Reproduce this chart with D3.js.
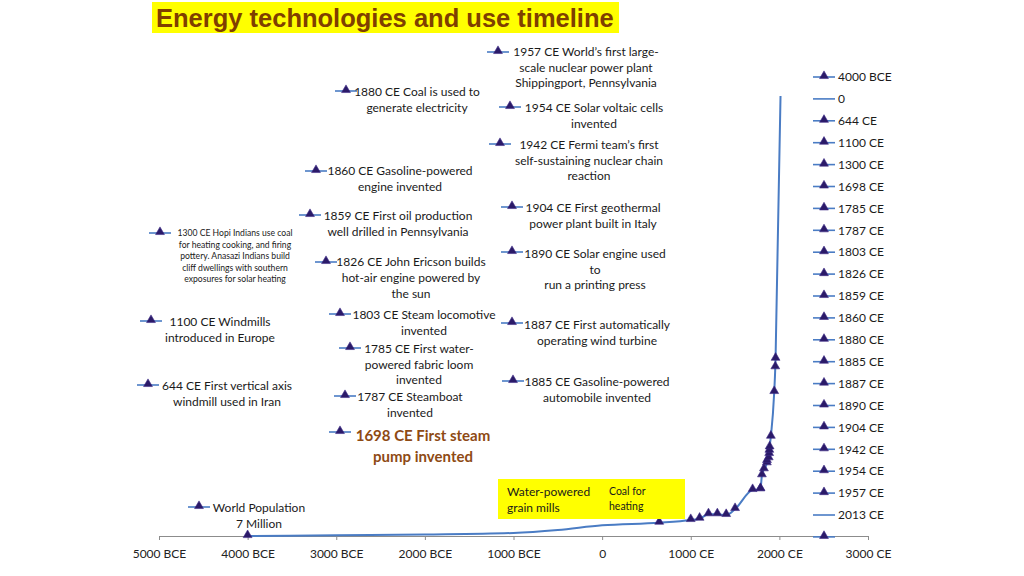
<!DOCTYPE html>
<html><head><meta charset="utf-8">
<script src="https://cdn.jsdelivr.net/npm/d3@7"></script>
<style>
html,body{margin:0;padding:0;background:#fff;}
svg{display:block;}
</style></head>
<body>
<script>
// ---------- DATA ----------
const title = "Energy technologies and use timeline";
const axisTicks = [-5000,-4000,-3000,-2000,-1000,0,1000,2000,3000];
const axisTickLabels = ["5000 BCE","4000 BCE","3000 BCE","2000 BCE","1000 BCE","0","1000 CE","2000 CE","3000 CE"];

// world population (millions)
const popYears    = [-4000,-3000,-2000,-1000,-500,0,644,1000,1100,1200,1300,1400,1500,1698,1785,1787,1803,1826,1859,1860,1880,1885,1887,1890,1904,1942,1954,1957,2013];
const popMillions = [7,19,32,56,103,178,219,262,283,353,353,342,437,739,750,755,973,1068,1163,1200,1243,1311,1363,1417,1586,2296,2689,2825,7000];
const markedYears = [-4000,644,1000,1100,1200,1300,1400,1500,1698,1785,1787,1803,1826,1859,1860,1880,1885,1887,1890,1904,1942,1954,1957];

const legendLabels = ["4000 BCE","0","644 CE","1100 CE","1300 CE","1698 CE","1785 CE","1787 CE","1803 CE","1826 CE","1859 CE","1860 CE","1880 CE","1885 CE","1887 CE","1890 CE","1904 CE","1942 CE","1954 CE","1957 CE","2013 CE",""];
const legendHasMarker = [true,false,true,true,true,true,true,true,true,true,true,true,true,true,true,true,true,true,true,true,false,true];

const noteTexts = [
  ["1957 CE World\u2019s first large-","scale nuclear power plant","Shippingport, Pennsylvania"],
  ["1880 CE Coal is used to","generate electricity"],
  ["1954 CE Solar voltaic cells","invented"],
  ["1942 CE Fermi team\u2019s first","self-sustaining nuclear chain","reaction"],
  ["1860 CE Gasoline-powered","engine invented"],
  ["1904 CE First geothermal","power plant built in Italy"],
  ["1859 CE First oil production","well drilled in Pennsylvania"],
  ["1300 CE Hopi Indians use coal","for heating cooking, and firing","pottery.  Anasazi Indians build","cliff dwellings with southern","exposures for solar heating"],
  ["1890 CE Solar engine used","to","run a printing press"],
  ["1826 CE John Ericson builds","hot-air engine powered by","the sun"],
  ["1803 CE Steam locomotive","invented"],
  ["1100 CE Windmills","introduced in Europe"],
  ["1887 CE First automatically","operating wind turbine"],
  ["1785 CE First water-","powered fabric loom","invented"],
  ["644 CE First vertical axis","windmill used in Iran"],
  ["1885 CE Gasoline-powered","automobile invented"],
  ["1787 CE Steamboat","invented"],
  ["1698 CE First steam","pump invented"],
  ["World Population","7 Million"]
];
const boxTextA = ["Water-powered","grain mills"];
const boxTextB = ["Coal for","heating"];

// ---------- LAYOUT (positions / styles) ----------
// [markerX, markerY, textCenterX, firstLineY, lineHeight, fontSize, kind]
const noteLayout = [
  [498,52,586,52,15.5,12,"n"],
  [346,91,417,92,16,12,"n"],
  [510,107,594,108,16,12,"n"],
  [500,144,589,145,15.5,12,"n"],
  [316,171,400,171,16,12,"n"],
  [512,207,593,208,16,12,"n"],
  [310,215,398,216,16,12,"n"],
  [160,233,235,233,11.6,8.6,"n"],
  [512,252,595,254,15.5,12,"n"],
  [326,262,411,262,16,12,"n"],
  [340,314,424,315,16,12,"n"],
  [151,321,220,322,15.5,12,"n"],
  [512,323,597,325,16,12,"n"],
  [350,348,419,349,15.5,12,"n"],
  [148,385,227,386,16,12,"n"],
  [513,381,597,382,16,12,"n"],
  [345,396,410,397,16,12,"n"],
  [340,432,423,436,21,15,"b"],
  [199,507,259,508,16,12,"n"]
];

const W = 1024, H = 576;
const FONT = "Lato, 'Open Sans', sans-serif";
const lineBlue = "#4a7cc4";
const markFill = "#2b1a68";
const markStroke = "#3d2a86";

const svg = d3.select("body").append("svg").attr("width",W).attr("height",H);
svg.append("rect").attr("width",W).attr("height",H).attr("fill","#fff");

// title
svg.append("rect").attr("x",152).attr("y",2).attr("width",467).attr("height",31).attr("fill","#ffff00");
svg.append("text").attr("x",156).attr("y",26.5).text(title)
  .attr("font-family","'Liberation Sans', Arial, sans-serif").attr("font-weight","bold")
  .attr("font-size",25.5).attr("fill","#7f3f00");

// scales
const x = d3.scaleLinear().domain([-5000,3000]).range([159,868]);
const y = d3.scaleLinear().domain([0,7000]).range([536.5,96]);

// axis
const axis = d3.axisBottom(x).tickValues(axisTicks)
  .tickFormat((d,i)=>axisTickLabels[i]).tickSize(4).tickSizeOuter(0).tickPadding(9);
const gx = svg.append("g").attr("transform","translate(0,536)").call(axis);
gx.select(".domain").attr("stroke","#8c8c8c");
gx.selectAll(".tick line").attr("stroke","#8c8c8c");
gx.selectAll("text").attr("font-family",FONT).attr("font-size",12).attr("fill","#222");

// population curve
const pts = popYears.map((yr,i)=>({yr, v:popMillions[i]}));
const line = d3.line().x(d=>x(d.yr)).y(d=>y(d.v)).curve(d3.curveMonotoneX);
svg.append("path").datum(pts).attr("d",line).attr("fill","none")
  .attr("stroke",lineBlue).attr("stroke-width",2);

const tri = d3.symbol().type(d3.symbolTriangle).size(34);
svg.append("g").selectAll("path").data(pts.filter(p=>markedYears.includes(p.yr)))
  .join("path").attr("d",tri)
  .attr("transform",d=>`translate(${x(d.yr)},${y(d.v)-1})`)
  .attr("fill",markFill).attr("stroke",markStroke).attr("stroke-width",0.6);

// legend-like marker glyph
function glyph(g, cx, cy, withMarker){
  g.append("line").attr("x1",cx-11).attr("x2",cx+11).attr("y1",cy).attr("y2",cy)
    .attr("stroke",lineBlue).attr("stroke-width",1.6);
  if(withMarker){
    g.append("path").attr("d",tri).attr("transform",`translate(${cx},${cy-1})`)
      .attr("fill",markFill).attr("stroke",markStroke).attr("stroke-width",0.6);
  }
}

// legend
const lg = svg.append("g");
legendLabels.forEach((lab,i)=>{
  const cy = 77 + i*21.9;
  glyph(lg, 824, cy, legendHasMarker[i]);
  lg.append("text").attr("x",838).attr("y",cy).attr("dy","0.35em").text(lab)
    .attr("font-family",FONT).attr("font-size",12).attr("fill","#1a1a1a");
});

// annotations
const ng = svg.append("g");
noteTexts.forEach((lines,i)=>{
  const [mx,my,cx,ly,lh,fs,kind] = noteLayout[i];
  glyph(ng, mx, my, true);
  const t = ng.append("text").attr("font-family",FONT).attr("font-size",fs)
    .attr("text-anchor","middle")
    .attr("fill", kind==="b" ? "#8e4a14" : "#1a1a1a")
    .attr("font-weight", kind==="b" ? "bold" : "normal");
  lines.forEach((s,j)=>{
    t.append("tspan").attr("x",cx).attr("y",ly + j*lh).attr("dy","0.35em").text(s);
  });
});

// yellow box
svg.append("rect").attr("x",498).attr("y",479).attr("width",187).attr("height",40).attr("fill","#ffff00");
const ta = svg.append("text").attr("font-family",FONT).attr("font-size",12).attr("fill","#1a1a1a");
boxTextA.forEach((s,j)=>ta.append("tspan").attr("x",507).attr("y",492+j*16).attr("dy","0.35em").text(s));
const tb = svg.append("text").attr("font-family",FONT).attr("font-size",10.5).attr("fill","#1a1a1a");
boxTextB.forEach((s,j)=>tb.append("tspan").attr("x",609).attr("y",491+j*15).attr("dy","0.35em").text(s));
</script>
</body></html>
